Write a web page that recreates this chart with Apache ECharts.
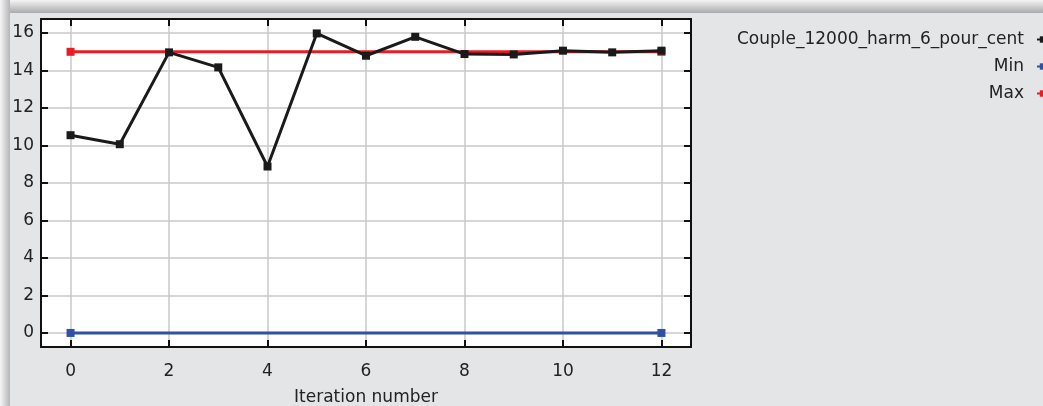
<!DOCTYPE html>
<html>
<head>
<meta charset="utf-8">
<script src="https://cdn.jsdelivr.net/npm/echarts@6/dist/echarts.min.js"></script>
<style>
  html, body { margin: 0; padding: 0; background: #e4e5e7; }
  #chart { width: 1043px; height: 406px; }
</style>
</head>
<body>
<div id="chart"></div>
<script>
// Iteration indices and objective history
const iterations = [0, 1, 2, 3, 4, 5, 6, 7, 8, 9, 10, 11, 12];
const coupleValues = [10.55, 10.07, 14.97, 14.17, 8.88, 15.98, 14.79, 15.8, 14.88, 14.86, 15.06, 14.97, 15.06];
// Constraint bounds (drawn at the first and last iteration)
const boundIterations = [0, 12];
const minValues = [0, 0];
const maxValues = [15, 15];
// Tick labels
const xTicks = [0, 2, 4, 6, 8, 10, 12];
const yTicks = [0, 2, 4, 6, 8, 10, 12, 14, 16];

const FONT = 'DejaVu Sans';
const TXT = '#222222';
const GRIDC = '#c8c8ca';

const toPairs = (xs, ys) => xs.map((x, i) => [x, ys[i]]);

const chart = echarts.init(document.getElementById('chart'), null, { renderer: 'canvas' });

const xBase = {
  type: 'value', min: -0.6, max: 12.6,
  axisLine: { show: true, onZero: false, lineStyle: { color: '#111', width: 2 } },
  axisTick: { show: true, inside: true, length: 7, customValues: xTicks, lineStyle: { color: '#111', width: 2 } },
  splitLine: { show: false }
};
const yBase = {
  type: 'value', min: -0.75, max: 16.75,
  axisLine: { show: true, onZero: false, lineStyle: { color: '#111', width: 2 } },
  axisTick: { show: true, inside: true, length: 7, customValues: yTicks, lineStyle: { color: '#111', width: 2 } },
  splitLine: { show: false }
};

chart.setOption({
  backgroundColor: '#e4e5e7',
  animation: false,
  graphic: [
    { type: 'rect', shape: { x: 0, y: 0, width: 1043, height: 13 }, silent: true, z: 0,
      style: { fill: new echarts.graphic.LinearGradient(0, 0, 0, 1, [
        { offset: 0, color: '#f4f4f4' }, { offset: 1, color: '#a9aaac' }]) } },
    { type: 'rect', shape: { x: 0, y: 0, width: 10, height: 406 }, silent: true, z: 0,
      style: { fill: new echarts.graphic.LinearGradient(0, 0, 1, 0, [
        { offset: 0, color: '#f6f6f6' }, { offset: 1, color: '#b4b5b7' }]) } }
  ],
  grid: {
    left: 41, top: 19, right: 352, bottom: 59,
    outerBoundsMode: 'none', containLabel: false,
    show: true, backgroundColor: '#ffffff', borderWidth: 0
  },
  legend: {
    orient: 'vertical', right: -7, top: 31, align: 'right',
    itemWidth: 12, itemHeight: 8, itemGap: 10,
    padding: 0,
    textStyle: { fontFamily: FONT, fontSize: 17, color: TXT, padding: [0, 8, 0, 0] },
    data: ['Couple_12000_harm_6_pour_cent', 'Min', 'Max']
  },
  xAxis: [
    Object.assign({}, xBase, {
      position: 'bottom',
      name: 'Iteration number', nameLocation: 'middle', nameGap: 42,
      nameTextStyle: { fontFamily: FONT, fontSize: 17, color: TXT },
      axisLabel: { show: true, customValues: xTicks, margin: 16, fontFamily: FONT, fontSize: 17, color: TXT }
    }),
    Object.assign({}, xBase, { position: 'top', axisLabel: { show: false } })
  ],
  yAxis: [
    Object.assign({}, yBase, {
      position: 'left',
      axisLabel: { show: true, customValues: yTicks, margin: 7, fontFamily: FONT, fontSize: 17, color: TXT }
    }),
    Object.assign({}, yBase, { position: 'right', axisLabel: { show: false } })
  ],
  series: [
    // grid lines at the tick positions, kept beneath the data lines
    {
      type: 'line', data: [], silent: true, z: 0,
      markLine: {
        z: 0, silent: true, symbol: 'none', label: { show: false }, animation: false,
        emphasis: { disabled: true },
        lineStyle: { color: GRIDC, width: 1.5, type: 'solid' },
        data: xTicks.map(v => ({ xAxis: v })).concat(yTicks.map(v => ({ yAxis: v })))
      }
    },
    {
      name: 'Couple_12000_harm_6_pour_cent', type: 'line', z: 4,
      data: toPairs(iterations, coupleValues),
      symbol: 'rect', symbolSize: 8, showSymbol: true,
      itemStyle: { color: '#1a1a1a' },
      lineStyle: { color: '#1a1a1a', width: 3 }
    },
    {
      name: 'Min', type: 'line', z: 3,
      data: toPairs(boundIterations, minValues),
      symbol: 'rect', symbolSize: 8,
      itemStyle: { color: '#2f50a3' },
      lineStyle: { color: '#2f50a3', width: 3 }
    },
    {
      name: 'Max', type: 'line', z: 3,
      data: toPairs(boundIterations, maxValues),
      symbol: 'rect', symbolSize: 8,
      itemStyle: { color: '#e81c24' },
      lineStyle: { color: '#e81c24', width: 3 }
    }
  ]
});
</script>
</body>
</html>
